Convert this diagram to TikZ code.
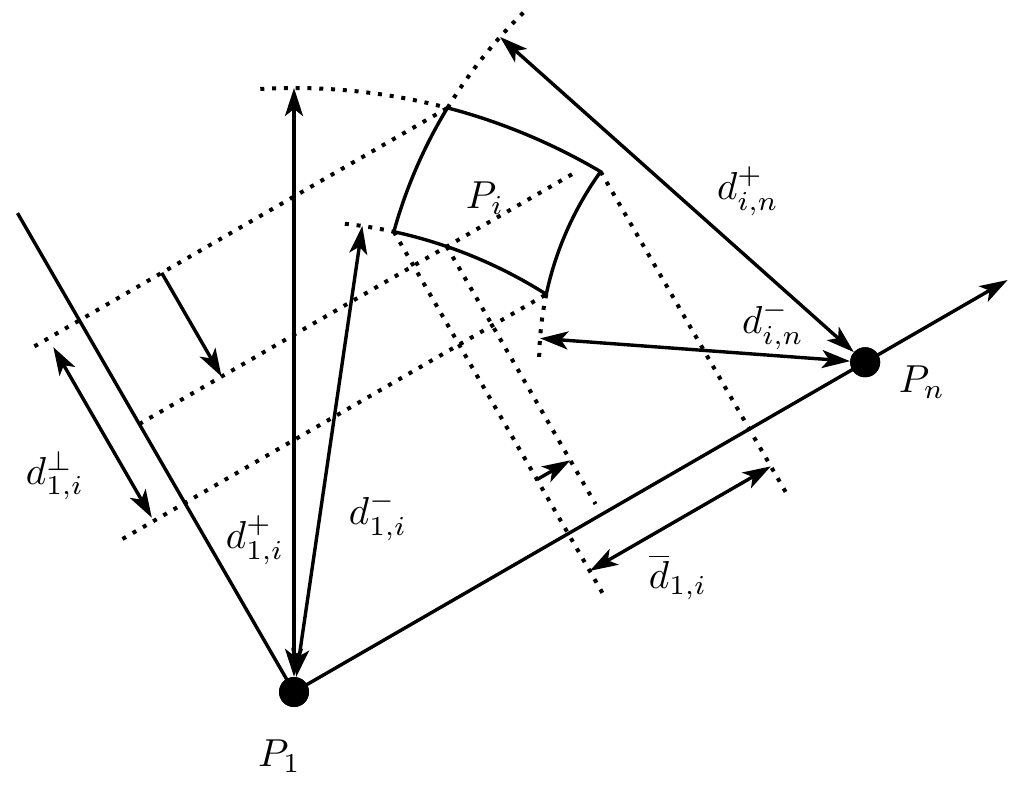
\documentclass[tikz,border=0pt]{standalone}
\usetikzlibrary{arrows.meta}
\begin{document}
\begin{tikzpicture}[x=1pt,y=1pt,
  thickline/.style={line width=3.4pt, line join=round},
  dotline/.style={line width=4pt, dash pattern=on 4pt off 7.8pt},
  >={Stealth[length=28pt,width=18pt,inset=7pt]},
  dotnode/.style={circle, fill=black, minimum size=30pt, inner sep=0pt},
  lab/.style={scale=3.9, inner sep=0pt}]
\useasboundingbox (0,0) rectangle (1024,796);
\begin{scope}[shift={(294,104)}, rotate=30]
  % base points
  \coordinate (P1) at (0,0);
  \coordinate (Pn) at (659.5,0);
  \coordinate (axend) at (824,0);
  \coordinate (lend) at (0,553);
  % corners of the region
  \coordinate (A) at (45.27:604);
  \coordinate (B) at (29.49:604);
  \coordinate (C) at (27.61:471);
  \coordinate (D) at (47.76:471);
  \coordinate (M) at (41.08:471);
  % ends of dotted arcs
  \coordinate (T0) at (63.2:604);
  \coordinate (I0) at (53.8:471);
  % arrow ends on circles
  \coordinate (Tp) at (60:604);
  \coordinate (Tm) at (51.66:471);
  \coordinate (Np) at ({659.5+489*cos(108.3)},{489*sin(108.3)});
  \coordinate (Nm) at ({659.5+326*cos(145.8)},{326*sin(145.8)});
  % ends of dotted lines
  \coordinate (L1) at (-52,429.13);
  \coordinate (L2a) at (0,309.4);
  \coordinate (L2b) at (506,309.4);
  \coordinate (L3) at (-72,218.27);
  \coordinate (Dd) at (316.65,-70);
  \coordinate (Md) at (355.1,12);
  \coordinate (Bd) at (525.77,-73);
  % small arrows
  \coordinate (s1) at (316.65,62.5);
  \coordinate (s2) at (355.1,62.5);
  \coordinate (b1) at (316.65,-43);
  \coordinate (b2) at (525.77,-43);
  \coordinate (q1) at (-36,419);
  \coordinate (q2) at (-36,222);
  \coordinate (r1) at (95,429.13);
  \coordinate (r2) at (95,309.4);

  % dotted construction lines
  \draw[dotline] (T0) arc[start angle=63.2,end angle=45.27,radius=604];
  \draw[dotline] (I0) arc[start angle=53.8,end angle=47.76,radius=471];
  \draw[dotline] (A) arc[start angle=118.65,end angle=103.7,radius=489];
  \draw[dotline] (C) arc[start angle=137.97,end angle=149.6,radius=326];
  \draw[dotline] (L1) -- (A);
  \draw[dotline] (L2a) -- (L2b);
  \draw[dotline] (L3) -- (C);
  \draw[dotline] (D) -- (Dd);
  \draw[dotline] (M) -- (Md);
  \draw[dotline] (B) -- (Bd);

  % region P_i
  \draw[thickline] (A) arc[start angle=45.27,end angle=29.49,radius=604]
    arc[start angle=114.22,end angle=137.97,radius=326]
    arc[start angle=27.61,end angle=47.76,radius=471]
    arc[start angle=134.52,end angle=118.65,radius=489] -- cycle;

  % axes
  \node[dotnode] (p1) at (P1) {};
  \node[dotnode] (pn) at (Pn) {};
  \draw[thickline,->] (P1) -- (axend);
  \draw[thickline] (P1) -- (lend);

  % measurement arrows
  \draw[thickline,<->] (p1) -- (Tp);
  \draw[thickline,<->] (p1) -- (Tm);
  \draw[thickline,<->] (pn) -- (Np);
  \draw[thickline,<->] (pn) -- (Nm);
  \draw[thickline,->] (s1) -- (s2);
  \draw[thickline,<->] (b1) -- (b2);
  \draw[thickline,<->] (q1) -- (q2);
  \draw[thickline,->] (r1) -- (r2);
  \node[dotnode] at (P1) {};
  \node[dotnode] at (Pn) {};
\end{scope}

\node[lab] (l1) at (279.5,40) {$P_1$};
\node[lab] (ln) at (922,414) {$P_n$};
\node[lab] (li) at (485,598) {$P_i$};
\node[lab] (lp1) at (255,256) {$d^+_{1,i}$};
\node[lab] (lm1) at (378,280) {$d^-_{1,i}$};
\node[lab] (lperp) at (55,320) {$d^\perp_{1,i}$};
\node[lab] (lpn) at (748,605) {$d^+_{i,n}$};
\node[lab] (lmn) at (773,471) {$d^-_{i,n}$};
\node[lab] (lbar) at (678,219) {$\overline{d}_{1,i}$};
\end{tikzpicture}
\end{document}
